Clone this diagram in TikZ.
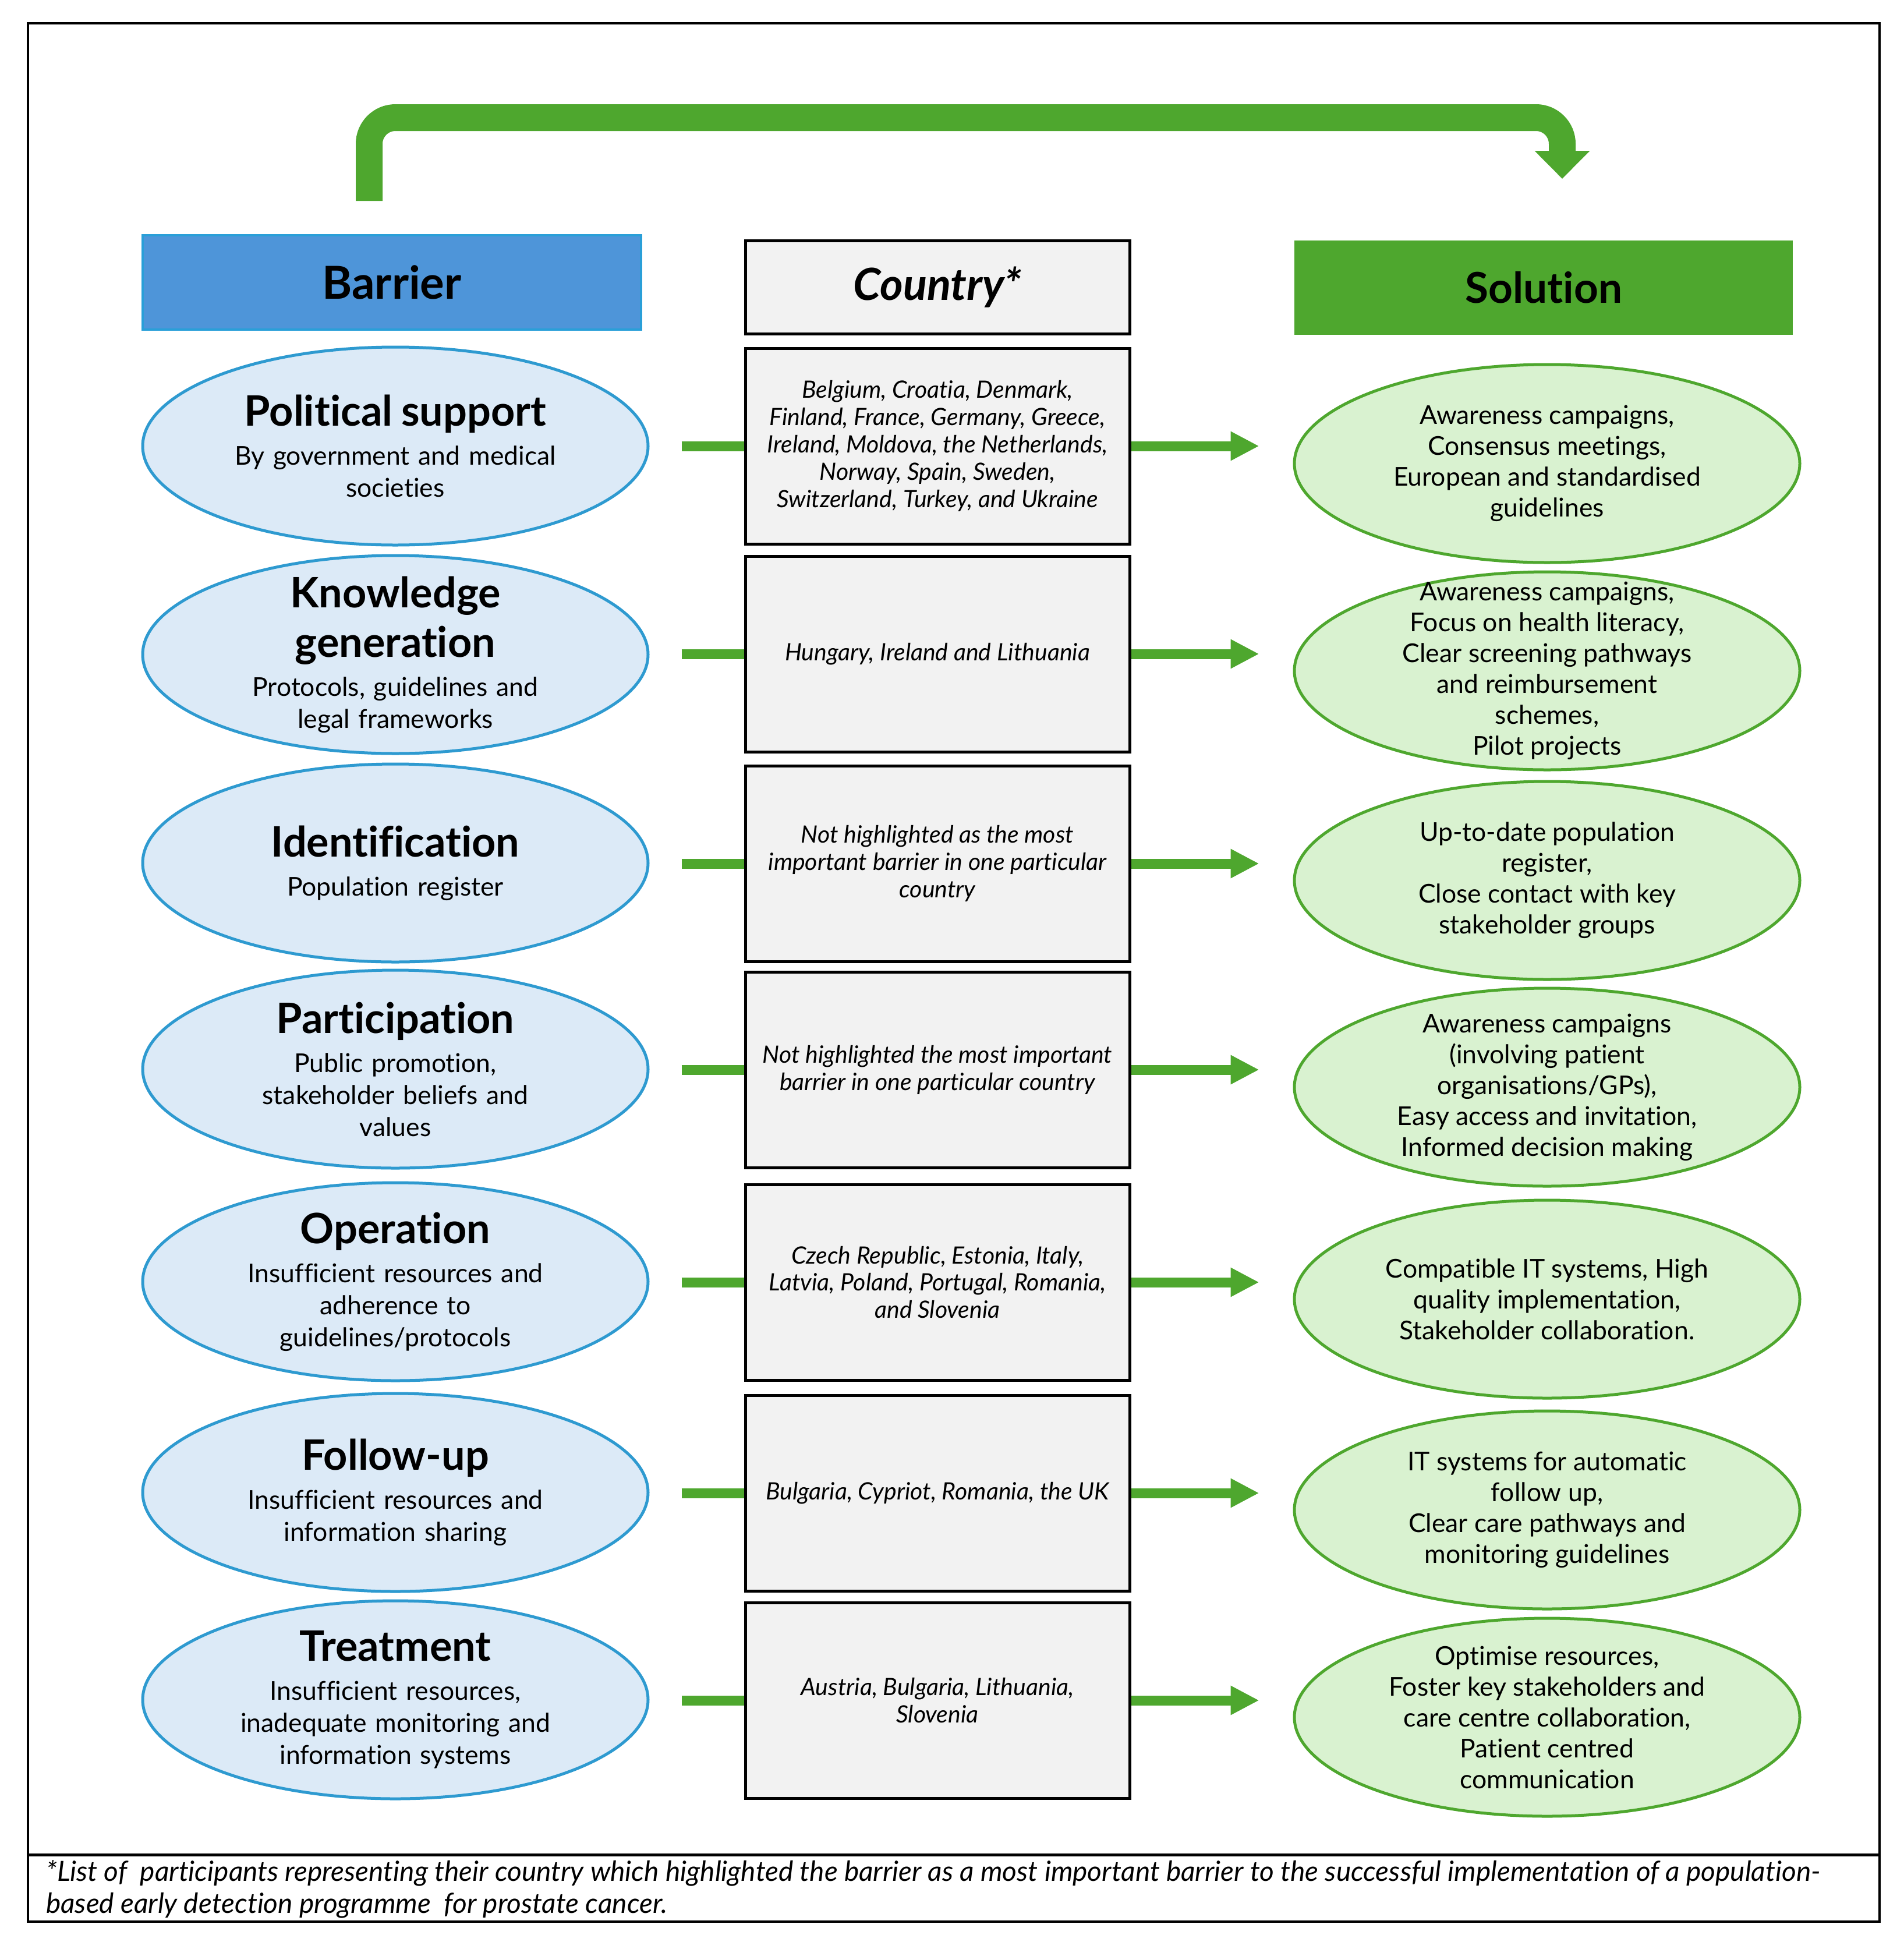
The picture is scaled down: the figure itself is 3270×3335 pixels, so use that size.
\documentclass[tikz,border=0pt]{standalone}
\usepackage{fontspec}
\setmainfont{Lato}[Ligatures=NoCommon]
\usetikzlibrary{shapes.geometric,arrows.meta,calc}
\definecolor{hdrblue}{HTML}{4E95D9}
\definecolor{hdrblueedge}{HTML}{2A9FD8}
\definecolor{bluefill}{HTML}{DCEAF7}
\definecolor{blueedge}{HTML}{2E9AD0}
\definecolor{gr}{HTML}{4EA72E}
\definecolor{grfill}{HTML}{D9F2D0}
\definecolor{boxfill}{HTML}{F2F2F2}
\newcommand\bhead[1]{{\fontsize{72}{85}\selectfont\bfseries #1\par}\vskip 12pt}
\begin{document}
\begin{tikzpicture}[x=1pt,y=-1pt,
  barell/.style={ellipse, draw=blueedge, line width=5pt, fill=bluefill, minimum width=868pt, minimum height=340pt, inner sep=0pt},
  solell/.style={ellipse, draw=gr, line width=5pt, fill=grfill, minimum width=868pt, minimum height=340pt, inner sep=0pt},
  ctybox/.style={rectangle, draw=black, line width=5pt, fill=boxfill, minimum width=660pt, minimum height=336pt, inner sep=0pt, align=center, font=\fontsize{41}{46.8}\selectfont\itshape},
  bartxt/.style={text width=850pt, align=center, inner sep=0pt, font=\fontsize{44.5}{55}\selectfont},
  soltxt/.style={align=center, inner sep=0pt, font=\fontsize{44.5}{53}\selectfont},
  hdrbar/.style={rectangle, fill=hdrblue, draw=hdrblueedge, line width=4pt, minimum width=856pt, minimum height=162pt, font=\fontsize{78}{80}\selectfont\bfseries},
  hdrcty/.style={rectangle, fill=boxfill, draw=black, line width=5pt, minimum width=660pt, minimum height=160pt, font=\fontsize{76}{80}\selectfont\bfseries\itshape},
  hdrsol/.style={rectangle, fill=gr, minimum width=856pt, minimum height=162pt, font=\fontsize{73}{80}\selectfont\bfseries},
  rowbar/.style={draw=gr, line width=17pt},
  rowarr/.style={draw=gr, line width=17pt, -{Triangle[length=49pt,width=47pt]}},
  bigarrow/.style={draw=gr, line width=46pt, rounded corners=45pt, -{Triangle[length=48pt,width=92pt]}},
  foottxt/.style={anchor=west, align=left, inner sep=0pt, font=\fontsize{47.8}{55}\selectfont\itshape}
]
\useasboundingbox (0,0) rectangle (3270,3335);
\fill[white] (0,0) rectangle (3270,3335);
% frame
\draw[line width=4pt] (48,40) rectangle (3228,3300);
\draw[line width=5pt] (48,3185) -- (3228,3185);

% top arrow
\coordinate (ts) at (634,345);
\coordinate (tc) at (2683,202);
\coordinate (te) at (2683,307);
\draw[bigarrow] (ts) |- (tc) -- (te);

% headers
\node[hdrbar] (hb) at (673,485) {Barrier};
\node[hdrcty] (hc) at (1610,493) {Country*};
\node[hdrsol] (hs) at (2651,494) {Solution};

% row 1
\node[barell] (L1) at (679,766) {};
\node[bartxt] (L1t) at (L1.center) {\bhead{Political support}By government and medical\\ societies};
\node[ctybox] (C1) at (1610,766) {Belgium, Croatia, Denmark,\\ Finland, France, Germany, Greece,\\ Ireland, Moldova, the Netherlands,\\ Norway, Spain, Sweden,\\ Switzerland, Turkey, and Ukraine};
\node[solell] (S1) at (2657,796) {};
\node[soltxt] (S1t) at (S1.center) {Awareness campaigns,\\ Consensus meetings,\\ European and standardised\\ guidelines};

% row 2
\node[barell] (L2) at (679,1124) {};
\node[bartxt] (L2t) at (L2.center) {\bhead{Knowledge\\ generation}Protocols, guidelines and\\ legal frameworks};
\node[ctybox] (C2) at (1610,1123) {Hungary, Ireland and Lithuania};
\node[solell] (S2) at (2657,1152) {};
\node[soltxt] (S2t) at (S2.center) {Awareness campaigns,\\ Focus on health literacy,\\ Clear screening pathways\\ and reimbursement\\ schemes,\\ Pilot projects};

% row 3
\node[barell] (L3) at (679,1482) {};
\node[bartxt] (L3t) at (L3.center) {\bhead{Identification}Population register};
\node[ctybox] (C3) at (1610,1483) {Not highlighted as the most\\ important barrier in one particular\\ country};
\node[solell] (S3) at (2657,1512) {};
\node[soltxt] (S3t) at (S3.center) {Up-to-date population\\ register,\\ Close contact with key\\ stakeholder groups};

% row 4
\node[barell] (L4) at (679,1836) {};
\node[bartxt] (L4t) at (L4.center) {\bhead{Participation}Public promotion,\\ stakeholder beliefs and\\ values};
\node[ctybox] (C4) at (1610,1837) {Not highlighted the most important\\ barrier in one particular country};
\node[solell] (S4) at (2657,1867) {};
\node[soltxt] (S4t) at (S4.center) {Awareness campaigns\\ (involving patient\\ organisations/GPs),\\ Easy access and invitation,\\ Informed decision making};

% row 5
\node[barell] (L5) at (679,2201) {};
\node[bartxt] (L5t) at (L5.center) {\bhead{Operation}Insufficient resources and\\ adherence to\\ guidelines/protocols};
\node[ctybox] (C5) at (1610,2202) {Czech Republic, Estonia, Italy,\\ Latvia, Poland, Portugal, Romania,\\ and Slovenia};
\node[solell] (S5) at (2657,2231) {};
\node[soltxt] (S5t) at (S5.center) {Compatible IT systems, High\\ quality implementation,\\ Stakeholder collaboration.};

% row 6
\node[barell] (L6) at (679,2563) {};
\node[bartxt] (L6t) at (L6.center) {\bhead{Follow-up}Insufficient resources and\\ information sharing};
\node[ctybox] (C6) at (1610,2564) {Bulgaria, Cypriot, Romania, the UK};
\node[solell] (S6) at (2657,2593) {};
\node[soltxt] (S6t) at (S6.center) {IT systems for automatic\\ follow up,\\ Clear care pathways and\\ monitoring guidelines};

% row 7
\node[barell] (L7) at (679,2919) {};
\node[bartxt] (L7t) at (L7.center) {\bhead{Treatment}Insufficient resources,\\ inadequate monitoring and\\ information systems};
\node[ctybox] (C7) at (1610,2920) {Austria, Bulgaria, Lithuania,\\ Slovenia};
\node[solell] (S7) at (2657,2949) {};
\node[soltxt] (S7t) at (S7.center) {Optimise resources,\\ Foster key stakeholders and\\ care centre collaboration,\\ Patient centred\\ communication};

% connectors
\foreach \i in {1,...,7}{
  \draw[rowbar] ($(C\i.west)+(-107,0)$) -- (C\i.west);
  \draw[rowarr] (C\i.east) -- ($(C\i.east -| S\i.west)+(-58,0)$);
}

% footer
\node[foottxt] (foot) at (79,3244) {*List of\ \ participants representing their country which highlighted the barrier as a most important barrier to the successful implementation of a population-\\ based early detection programme\ \ for prostate cancer.};
\end{tikzpicture}
\end{document}
